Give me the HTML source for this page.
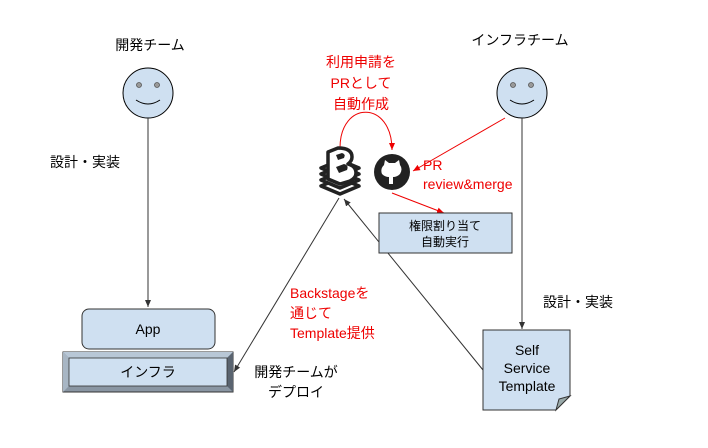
<!DOCTYPE html>
<html><head><meta charset="utf-8"><style>
body{margin:0;background:#fff}
svg{display:block;font-family:"Liberation Sans","Noto Sans CJK JP",sans-serif}
</style></head><body>
<svg width="708" height="448" viewBox="0 0 708 448" xmlns="http://www.w3.org/2000/svg">
<defs>
<marker id="a" markerWidth="8" markerHeight="8" refX="7" refY="4" orient="auto" markerUnits="userSpaceOnUse"><path d="M0,1 L7,4 L0,7z" fill="#333"/></marker>
<marker id="r" markerWidth="8" markerHeight="8" refX="7" refY="4" orient="auto" markerUnits="userSpaceOnUse"><path d="M0,1 L7,4 L0,7z" fill="#e00"/></marker>
</defs>
<g font-size="14" fill="#000" text-anchor="middle">
<text x="150" y="50">開発チーム</text>
<text x="520" y="45">インフラチーム</text>
<text x="85" y="167">設計・実装</text>
<text x="578" y="307">設計・実装</text>
<text x="296" y="377">開発チームが</text>
<text x="296" y="397">デプロイ</text>
</g>
<g stroke="#000" stroke-width="1" fill="#cfe0f1">
<circle cx="148" cy="93" r="25"/><circle cx="522" cy="93" r="25"/>
</g>
<g fill="#999" stroke="#555" stroke-width="0.8">
<circle cx="139" cy="85" r="2.5"/><circle cx="157" cy="85" r="2.5"/>
<circle cx="513" cy="85" r="2.5"/><circle cx="531" cy="85" r="2.5"/>
</g>
<g fill="none" stroke="#000" stroke-width="1">
<path d="M136,100 Q148,108 160,100"/><path d="M510,100 Q522,108 534,100"/>
</g>
<g stroke="#333" stroke-width="1" fill="none">
<line x1="148" y1="118" x2="148" y2="307" marker-end="url(#a)"/>
<line x1="522" y1="118" x2="522" y2="329" marker-end="url(#a)"/>
<line x1="339" y1="198" x2="234" y2="372" marker-end="url(#a)"/>
<line x1="483" y1="370" x2="344" y2="199" marker-end="url(#a)"/>
</g>
<g stroke="#e00" stroke-width="1" fill="none">
<path d="M340,148 C340,100 392,100 392,150" marker-end="url(#r)"/>
<line x1="505" y1="118" x2="413" y2="171" marker-end="url(#r)"/>
<line x1="392" y1="193" x2="444" y2="213" marker-end="url(#r)"/>
</g>
<rect x="82" y="309" width="133" height="40" rx="7" fill="#cfe0f1" stroke="#333"/>
<text x="148" y="334" font-size="14" text-anchor="middle">App</text>
<rect x="63" y="352" width="170" height="40" fill="#8a96a3" stroke="#333"/>
<path d="M63,352 L233,352 L227,358 L69,358z" fill="#b8c7d6"/>
<path d="M63,352 L69,358 L69,386 L63,392z" fill="#a8b6c4"/>
<path d="M233,352 L227,358 L227,386 L233,392z" fill="#5a6470"/>
<rect x="69" y="358" width="158" height="28" fill="#cfe0f1" stroke="#333" stroke-width="0.8"/>
<text x="148" y="377" font-size="14" text-anchor="middle">インフラ</text>
<rect x="379" y="213" width="133" height="40" fill="#cfe0f1" stroke="#333"/>
<text x="445" y="230" font-size="12" text-anchor="middle">権限割り当て</text>
<text x="445" y="246" font-size="12" text-anchor="middle">自動実行</text>
<path d="M483,330 L570,330 L570,396 L556,410 L483,410z" fill="#cfe0f1" stroke="#333"/>
<path d="M570,396 L556,410 L559,399z" fill="#9aa" stroke="#333"/>
<text x="527" y="355" font-size="14" text-anchor="middle">Self</text>
<text x="527" y="373" font-size="14" text-anchor="middle">Service</text>
<text x="527" y="391" font-size="14" text-anchor="middle">Template</text>
<!-- backstage icon -->
<g fill="#fff" stroke="#222" stroke-width="3.5" stroke-linejoin="round">
<path d="M321,186 l19,8 l19,-8 l-19,-8z"/>
<path d="M321,180 l19,8 l19,-8 l-19,-8z"/>
<path d="M321,174 l19,8 l19,-8 l-19,-8z"/>
<path d="M321,168 l19,8 l19,-8 l-19,-8z"/>
</g>
<path d="M328,152 l10,-4 q14,0 14,9 q0,4 -4,7 q8,2 8,9 q0,5 -6,8 l-10,3 l-12,-5z" fill="#fff" stroke="#222" stroke-width="3.5" stroke-linejoin="round"/>
<path d="M336,155 l6,-2 q4,1 2,5 l-6,2z M336,167 l8,-3 q5,1 3,6 l-8,3z" fill="#222"/>
<circle cx="392" cy="172" r="18" fill="#222"/>
<path d="M384,165 l1,-5 l4,3 h6 l4,-3 l1,5 q3,4 0,9 q-3,3 -7,3 v7 h-4 v-7 q-4,0 -7,-3 q-2,-5 2,-9z" fill="#fff"/>
<g font-size="14" fill="#e00" text-anchor="middle">
<text x="361" y="67">利用申請を</text>
<text x="361" y="88">PRとして</text>
<text x="361" y="109">自動作成</text>
<text x="423" y="170" text-anchor="start">PR</text>
<text x="423" y="189" text-anchor="start">review&amp;merge</text>
<text x="290" y="298" text-anchor="start">Backstageを</text>
<text x="290" y="318" text-anchor="start">通じて</text>
<text x="290" y="338" text-anchor="start">Template提供</text>
</g>
</svg>
</body></html>
